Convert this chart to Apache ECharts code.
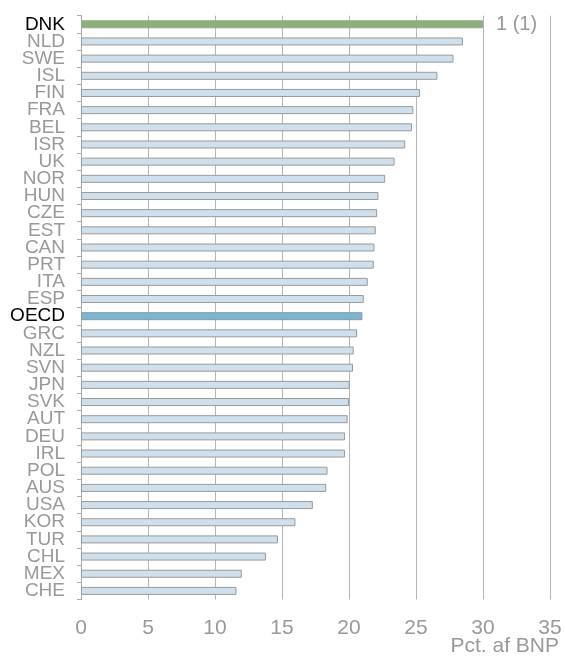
<!DOCTYPE html>
<html><head><meta charset="utf-8">
<script src="https://cdn.jsdelivr.net/npm/echarts@6/dist/echarts.min.js"></script>
<style>html,body{margin:0;padding:0;background:#fff}#c{width:565px;height:660px}</style>
</head><body><div id="c"></div>
<script>
var countries = ['DNK','NLD','SWE','ISL','FIN','FRA','BEL','ISR','UK','NOR','HUN','CZE','EST','CAN','PRT','ITA','ESP','OECD','GRC','NZL','SVN','JPN','SVK','AUT','DEU','IRL','POL','AUS','USA','KOR','TUR','CHL','MEX','CHE'];
var values = [30.0,28.5,27.8,26.6,25.3,24.8,24.7,24.2,23.4,22.7,22.2,22.1,22.0,21.9,21.85,21.4,21.1,21.0,20.6,20.35,20.3,20.05,20.0,19.9,19.7,19.7,18.4,18.3,17.3,16.0,14.7,13.8,12.0,11.6];
var xTicks = [0,5,10,15,20,25,30,35];
var highlightCountry = 'DNK';
var averageCountry = 'OECD';
var rankLabel = '1 (1)';
var axisTitle = 'Pct. af BNP';

var chart = echarts.init(document.getElementById('c'), null, {renderer:'canvas'});
var data = values.map(function(v,i){
  var c = countries[i];
  var item = {value:v};
  if (c === highlightCountry) {
    item.itemStyle = {color:'#8db077', borderColor:'#9aa896'};
    item.label = {show:true, position:'right', formatter:rankLabel, color:'#999', fontSize:20, distance:13, fontFamily:'Liberation Sans'};
  } else if (c === averageCountry) {
    item.itemStyle = {color:'#7bb5d4', borderColor:'#8a9aa4'};
  }
  return item;
});
chart.setOption({
  animation:false,
  grid:{left:81, right:15, top:15.7, bottom:60.5, containLabel:false},
  xAxis:{
    type:'value', min:xTicks[0], max:xTicks[xTicks.length-1], interval:5,
    axisLine:{show:false}, axisTick:{show:false},
    splitLine:{show:true, lineStyle:{color:'#b5b5b5', width:1}},
    axisLabel:{color:'#999', fontSize:21, fontFamily:'Liberation Sans', margin:18}
  },
  yAxis:{
    type:'category', data:countries, inverse:true,
    axisLine:{show:true, lineStyle:{color:'#aaa'}},
    axisTick:{show:true, length:4, lineStyle:{color:'#aaa'}},
    axisLabel:{fontSize:19, fontFamily:'Liberation Sans', margin:16, interval:0,
      color:function(v){ return (v===highlightCountry||v===averageCountry)?'#000':'#999'; }}
  },
  graphic:[{type:'text', right:6, top:636, style:{text:axisTitle, fill:'#999', font:'21px "Liberation Sans"'}}],
  series:[{
    type:'bar', data:data, barWidth:8,
    itemStyle:{color:'#cfe0ec', borderColor:'#9a9a9a', borderWidth:1},
    label:{show:false}
  }]
});
</script></body></html>
